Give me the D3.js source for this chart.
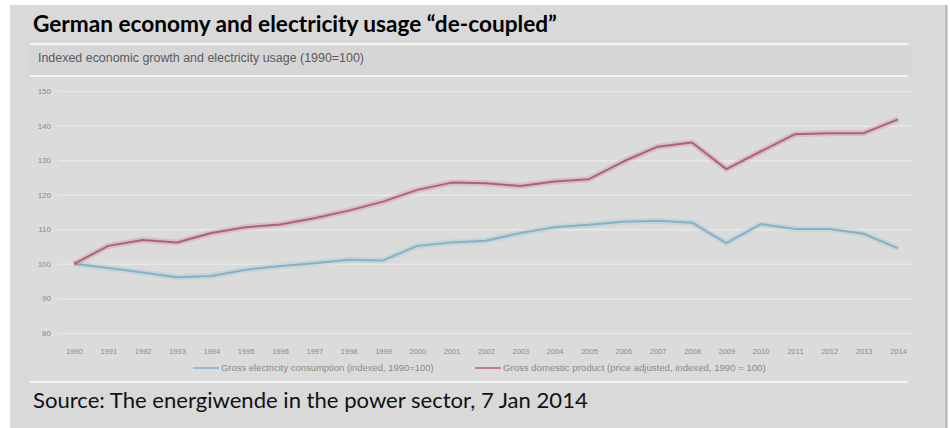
<!DOCTYPE html>
<html lang="en">
<head>
    <meta charset="UTF-8">
    <title>German economy and electricity usage</title>
    <script src="https://d3js.org/d3.v7.min.js"></script>
    <style>
        body {
            margin: 0;
            padding: 0;
            background: #ffffff;
        }
        svg {
            display: block;
        }
    </style>
</head>
<body>
    <svg width="950" height="428"></svg>

    <script>
        // data (index, 1990 = 100)
        const years = d3.range(1990, 2015);
        const electricity = [100, 98.8, 97.5, 96.1, 96.5, 98.3, 99.4, 100.2, 101.2, 101.0,
            105.2, 106.2, 106.7, 108.9, 110.6, 111.3, 112.2, 112.5, 111.9, 106.0,
            111.5, 110.1, 110.1, 108.7, 104.5];
        const gdp = [100, 105.2, 106.9, 106.2, 108.9, 110.6, 111.4, 113.2, 115.4, 118.0,
            121.4, 123.5, 123.3, 122.5, 123.8, 124.5, 129.6, 133.9, 135.1, 127.4,
            132.5, 137.5, 137.8, 137.8, 141.8];
        const yTicks = [80, 90, 100, 110, 120, 130, 140, 150];
        const seriesNames = [
            "Gross electricity consumption (indexed, 1990=100)",
            "Gross domestic product (price adjusted, indexed, 1990 = 100)"
        ];

        const svg = d3.select("svg");

        // scale a text's font size so it spans roughly the given width
        function fitWidth(sel, width) {
            const fs = +sel.attr("font-size");
            const w = sel.node().getComputedTextLength();
            if (w > 0) sel.attr("font-size", (fs * width / w).toFixed(2));
        }

        // grey slide panel
        svg.append("rect")
            .attr("x", 10).attr("y", 5)
            .attr("width", 937).attr("height", 423)
            .attr("fill", "#d9d9d9");
        svg.append("line")
            .attr("x1", 946.5).attr("x2", 946.5)
            .attr("y1", 5).attr("y2", 428)
            .attr("stroke", "#b4b4b4").attr("stroke-width", 2);

        const title = svg.append("text")
            .attr("x", 33).attr("y", 32)
            .attr("font-family", "Lato, 'Open Sans', sans-serif")
            .attr("font-weight", "bold")
            .attr("font-size", 20)
            .attr("fill", "#000")
            .text("German economy and electricity usage \u201Cde-coupled\u201D");
        fitWidth(title, 524);

        // pasted chart image area
        svg.append("rect")
            .attr("x", 30).attr("y", 44)
            .attr("width", 882).attr("height", 338)
            .attr("fill", "#dbdbdb");
        svg.append("rect")
            .attr("x", 30).attr("y", 46)
            .attr("width", 882).attr("height", 29)
            .attr("fill", "#d6d6d6");
        [44, 76, 382].forEach(y => {
            svg.append("line")
                .attr("x1", 30).attr("x2", 908)
                .attr("y1", y).attr("y2", y)
                .attr("stroke", "#f4f4f4").attr("stroke-width", 2);
        });

        const subtitle = svg.append("text")
            .attr("x", 38).attr("y", 62)
            .attr("font-family", "'Liberation Sans', Arial, sans-serif")
            .attr("font-size", 11)
            .attr("fill", "#5a5a5a")
            .text("Indexed economic growth and electricity usage (1990=100)");
        fitWidth(subtitle, 326);

        const x = d3.scalePoint()
            .domain(years)
            .range([74, 898]);

        const y = d3.scaleLinear()
            .domain([80, 150])
            .range([333, 91]);

        // gridlines + y labels
        const yAxis = svg.append("g")
            .attr("transform", "translate(58,0)")
            .call(d3.axisLeft(y).tickValues(yTicks).tickSize(-854).tickPadding(7));
        yAxis.select(".domain").remove();
        yAxis.selectAll(".tick line")
            .attr("stroke", "#e8e8e8").attr("stroke-width", 1.5);
        yAxis.selectAll(".tick text")
            .attr("font-family", "'Liberation Sans', Arial, sans-serif")
            .attr("font-size", 8)
            .attr("fill", "#8a8a8a");

        // x labels
        const xAxis = svg.append("g")
            .attr("transform", "translate(0,344)")
            .call(d3.axisBottom(x).tickSize(0).tickPadding(5));
        xAxis.select(".domain").remove();
        xAxis.selectAll(".tick text")
            .attr("font-family", "'Liberation Sans', Arial, sans-serif")
            .attr("font-size", 7.5)
            .attr("fill", "#8a8a8a");

        const line = d3.line()
            .x((d, i) => x(years[i]))
            .y(d => y(d));

        const colors = ["#82b3c8", "#b65d7d"];

        [electricity, gdp].forEach((s, i) => {
            // soft halo like the blurred original
            svg.append("path")
                .datum(s)
                .attr("d", line)
                .attr("fill", "none")
                .attr("stroke", colors[i])
                .attr("stroke-opacity", 0.22)
                .attr("stroke-width", 6)
                .attr("stroke-linejoin", "round");
            svg.append("path")
                .datum(s)
                .attr("d", line)
                .attr("fill", "none")
                .attr("stroke", colors[i])
                .attr("stroke-width", 2)
                .attr("stroke-linejoin", "round");
        });

        // legend
        const legendX = [193, 475];
        const legendW = [213, 263];
        seriesNames.forEach((name, i) => {
            svg.append("line")
                .attr("x1", legendX[i]).attr("x2", legendX[i] + 26)
                .attr("y1", 368).attr("y2", 368)
                .attr("stroke", colors[i]).attr("stroke-width", 1.5);
            const t = svg.append("text")
                .attr("x", legendX[i] + 28).attr("y", 371)
                .attr("font-family", "'Liberation Sans', Arial, sans-serif")
                .attr("font-size", 8)
                .attr("fill", "#8a8a8a")
                .text(name);
            fitWidth(t, legendW[i]);
        });

        const source = svg.append("text")
            .attr("x", 33).attr("y", 408)
            .attr("font-family", "Lato, 'Open Sans', sans-serif")
            .attr("font-size", 20)
            .attr("fill", "#111")
            .text("Source: The energiwende in the power sector, 7 Jan 2014");
        fitWidth(source, 555);
    </script>
</body>
</html>
